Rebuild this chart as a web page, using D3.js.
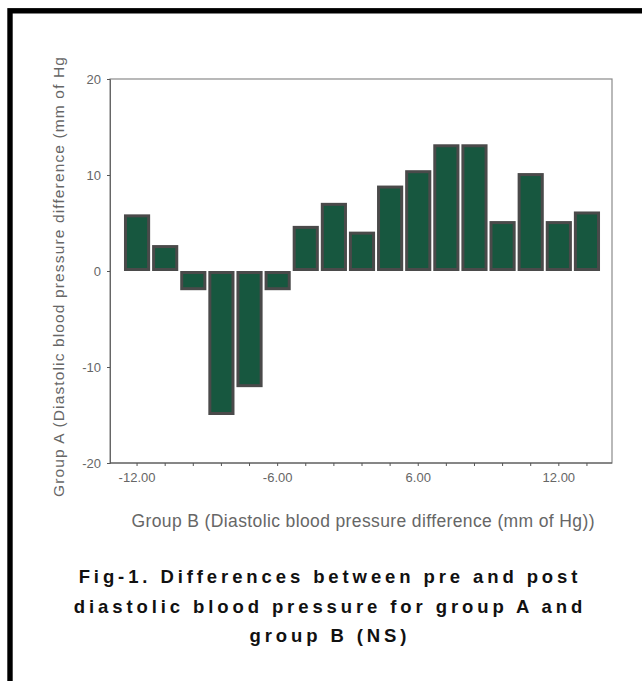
<!DOCTYPE html>
<html>
<head>
<meta charset="utf-8">
<script src="https://cdn.jsdelivr.net/npm/d3@7"></script>
<style>
  html, body { margin: 0; padding: 0; background: #fff; }
  svg { display: block; }
</style>
</head>
<body>
<div id="chart"></div>
<script>
// Group B difference categories (x) and mean group A difference (y)
const categories = ["-12", "-10", "-9", "-8", "-7", "-6", "-4", "-2", "0", "2", "6", "8", "9", "10", "11", "12", "14"];
const values = [5.9, 2.7, -2.0, -15.0, -12.1, -2.0, 4.7, 7.1, 4.1, 8.9, 10.5, 13.2, 13.2, 5.2, 10.2, 5.2, 6.2];
const xTickLabels = ["-12", "-6", "6", "12"];
const yTicks = [-20, -10, 0, 10, 20];
const xTitle = "Group B (Diastolic blood pressure difference (mm of Hg))";
const yTitle = "Group A (Diastolic blood pressure difference (mm of Hg";
const captionLines = [
  "Fig-1. Differences between pre and post",
  "diastolic blood pressure for group A and",
  "group B (NS)"
];

const W = 642, H = 681;
const plot = { left: 110, right: 612, top: 79, bottom: 463 };
const FONT = "Liberation Sans, Arial, sans-serif";

const svg = d3.select("#chart").append("svg")
  .attr("width", W).attr("height", H);

svg.append("rect").attr("width", W).attr("height", H).attr("fill", "#fff");

// outer black border (top and left visible)
svg.append("rect").attr("x", 10).attr("y", 10.8).attr("width", W).attr("height", H)
  .attr("fill", "none").attr("stroke", "#000").attr("stroke-width", 5.4);

const x = d3.scaleBand().domain(categories).range([123, 601]).paddingInner(0.07).paddingOuter(0.035);
const y = d3.scaleLinear().domain([-20, 20]).range([plot.bottom, plot.top]);

const data = categories.map((c, i) => ({ c, v: values[i] }));

// bars
const sw = 3;
svg.append("g").selectAll("rect").data(data).join("rect")
  .attr("x", d => x(d.c) + sw / 2)
  .attr("width", x.bandwidth() - sw)
  .attr("y", d => Math.min(y(d.v), y(0)) + sw / 2)
  .attr("height", d => Math.abs(y(d.v) - y(0)) - sw)
  .attr("fill", "#17573f")
  .attr("stroke", "#4a4a4a")
  .attr("stroke-width", sw);

// frame
svg.append("rect")
  .attr("x", plot.left).attr("y", plot.top)
  .attr("width", plot.right - plot.left).attr("height", plot.bottom - plot.top)
  .attr("fill", "none").attr("stroke", "#8a8a8a").attr("stroke-width", 1.2);

// y axis
const yAxis = d3.axisLeft(y).tickValues(yTicks).tickSize(3).tickPadding(6)
  .tickFormat(d => String(d));
const gy = svg.append("g").attr("transform", `translate(${plot.left},0)`).call(yAxis);
gy.select(".domain").attr("stroke", "#666");
gy.selectAll(".tick line").attr("stroke", "#555");
gy.selectAll(".tick text").attr("fill", "#666").attr("font-family", FONT).attr("font-size", 13);

// x axis: tick at each category, label every fifth
const xAxis = d3.axisBottom(x).tickSize(3).tickPadding(7)
  .tickFormat(d => xTickLabels.includes(d) ? (+d).toFixed(2) : "");
const gx = svg.append("g").attr("transform", `translate(0,${plot.bottom})`).call(xAxis);
gx.select(".domain").attr("d", `M${plot.left},0H${plot.right}`).attr("stroke", "#555");
gx.selectAll(".tick line").attr("stroke", "#555");
gx.selectAll(".tick text").attr("fill", "#666").attr("font-family", FONT).attr("font-size", 13);

// axis titles
svg.append("text")
  .attr("x", 363).attr("y", 527)
  .attr("text-anchor", "middle")
  .attr("font-family", FONT)
  .attr("font-size", 17.5).attr("fill", "#666")
  .attr("textLength", 463).attr("lengthAdjust", "spacing")
  .text(xTitle);

svg.append("text")
  .attr("transform", "translate(64,277) rotate(-90)")
  .attr("text-anchor", "middle")
  .attr("font-family", FONT)
  .attr("font-size", 15.5).attr("fill", "#666")
  .attr("textLength", 440).attr("lengthAdjust", "spacing")
  .text(yTitle);

// caption
svg.append("g").selectAll("text").data(captionLines).join("text")
  .attr("x", 330).attr("y", (d, i) => 583 + i * 29.5)
  .attr("text-anchor", "middle")
  .attr("font-family", FONT)
  .attr("font-weight", "bold").attr("font-size", 18.5)
  .attr("letter-spacing", 3.9)
  .attr("fill", "#111")
  .text(d => d);
</script>
</body>
</html>
